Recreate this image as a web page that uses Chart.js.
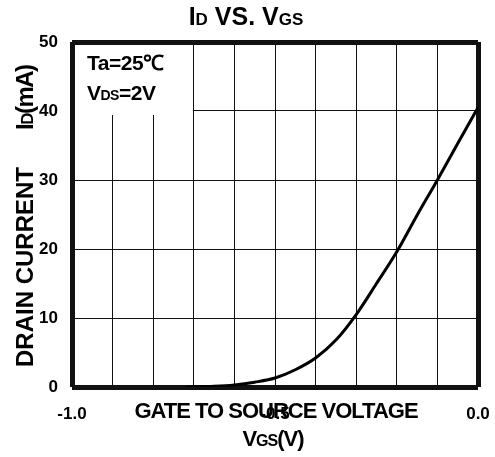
<!DOCTYPE html>
<html>
<head>
<meta charset="utf-8">
<script src="https://cdn.jsdelivr.net/npm/chart.js@4.4.1/dist/chart.umd.min.js"></script>
<style>
  html, body { margin: 0; padding: 0; background: #fff; }
  #wrap { width: 495px; height: 457px; }
</style>
</head>
<body>
<div id="wrap"><canvas id="chart" width="495" height="457"></canvas></div>
<script>
// curve
const vgs  = [-0.72, -0.65, -0.6, -0.55, -0.5, -0.45, -0.4, -0.35, -0.3, -0.25, -0.2, -0.15, -0.1, -0.05, 0.0];
const idmA = [0, 0.1, 0.3, 0.7, 1.3, 2.5, 4.2, 6.8, 10.5, 15.0, 19.6, 24.9, 30.0, 35.3, 40.5];

const xTickLabels = ['-1.0', '-0.5', '0.0'];
const yTicks = [0, 10, 20, 30, 40, 50];

const FAMILY = '"Liberation Sans", Arial, sans-serif';

// draws text made of parts with different sizes on one baseline
function richText(ctx, parts, x, y, align) {
  let widths = [];
  let total = 0;
  parts.forEach(p => {
    ctx.font = `bold ${p[1]}px ${FAMILY}`;
    const w = ctx.measureText(p[0]).width;
    widths.push(w);
    total += w;
  });
  let cx = align === 'center' ? x - total / 2 : x;
  ctx.textAlign = 'left';
  ctx.textBaseline = 'alphabetic';
  parts.forEach((p, i) => {
    ctx.font = `bold ${p[1]}px ${FAMILY}`;
    ctx.fillText(p[0], cx, y);
    cx += widths[i];
  });
}

const decor = {
  id: 'decor',
  beforeDatasetsDraw(chart) {
    const ctx = chart.ctx;
    const xs = chart.scales.x, ys = chart.scales.y;
    // white box behind the conditions text
    const l = xs.getPixelForValue(-1.0) + 3;
    const r = xs.getPixelForValue(-0.7) - 1;
    const t = ys.getPixelForValue(50) + 3;
    const b = ys.getPixelForValue(40) + 4;
    ctx.save();
    ctx.fillStyle = '#fff';
    ctx.fillRect(l, t, r - l, b - t);
    ctx.fillStyle = '#000';
    ctx.letterSpacing = '-0.5px';
    richText(ctx, [['Ta=25℃', 21]], l + 12, t + 25, 'left');
    richText(ctx, [['V', 21], ['DS', 14], ['=2V', 21]], l + 12, t + 55, 'left');
    ctx.restore();
  },
  afterDraw(chart) {
    const ctx = chart.ctx;
    ctx.save();
    ctx.fillStyle = '#000';
    richText(ctx, [['I', 25], ['D', 17], [' VS. V', 25], ['GS', 17]], 246, 25, 'center');
    ctx.letterSpacing = '-1px';
    richText(ctx, [['GATE TO SOURCE VOLTAGE', 22]], 276, 418, 'center');
    richText(ctx, [['V', 22], ['GS', 16], ['(V)', 22]], 273, 446, 'center');
    // rotated y title, two pieces
    ctx.translate(33, 367);
    ctx.rotate(-Math.PI / 2);
    ctx.letterSpacing = '0px';
    richText(ctx, [['DRAIN CURRENT', 24]], 0, 0, 'left');
    ctx.letterSpacing = '-1.5px';
    richText(ctx, [['I', 24], ['D', 17], ['(mA)', 24]], 237, 0, 'left');
    ctx.restore();
  }
};

const edgeWidth = c => (c.index === 0 || c.index === c.scale.ticks.length - 1) ? 5 : 1;

new Chart(document.getElementById('chart'), {
  type: 'scatter',
  data: {
    datasets: [{
      data: vgs.map((v, i) => ({ x: v, y: idmA[i] })),
      showLine: true,
      borderColor: '#000',
      borderWidth: 3,
      pointRadius: 0,
      cubicInterpolationMode: 'monotone',
      fill: false
    }]
  },
  options: {
    responsive: false,
    animation: false,
    layout: { padding: { top: 42, right: 17, bottom: 0, left: 0 } },
    plugins: {
      legend: { display: false },
      title: { display: false },
      tooltip: { enabled: false }
    },
    scales: {
      x: {
        type: 'linear',
        min: -1.0,
        max: 0.0,
        border: { display: false },
        grid: { color: '#111', lineWidth: edgeWidth, drawTicks: false },
        afterFit: s => { s.height = 70; s.paddingLeft = 0; s.paddingRight = 0; },
        ticks: {
          stepSize: 0.1,
          autoSkip: false,
          maxRotation: 0,
          padding: 17,
          color: '#000',
          font: { family: FAMILY, weight: 'bold', size: 17 },
          callback: v => {
            const s = Number(v).toFixed(1);
            return xTickLabels.includes(s) ? s : '';
          }
        }
      },
      y: {
        min: 0,
        max: 50,
        border: { display: false },
        grid: { color: '#111', lineWidth: edgeWidth, drawTicks: false },
        afterFit: s => { s.width = 72; s.paddingTop = 0; s.paddingBottom = 0; },
        ticks: {
          stepSize: 10,
          padding: 14,
          color: '#000',
          font: { family: '"Liberation Sans Narrow", ' + FAMILY, weight: 'bold', size: 17 },
          callback: v => yTicks.includes(v) ? String(v) : ''
        }
      }
    }
  },
  plugins: [decor]
});
</script>
</body>
</html>
